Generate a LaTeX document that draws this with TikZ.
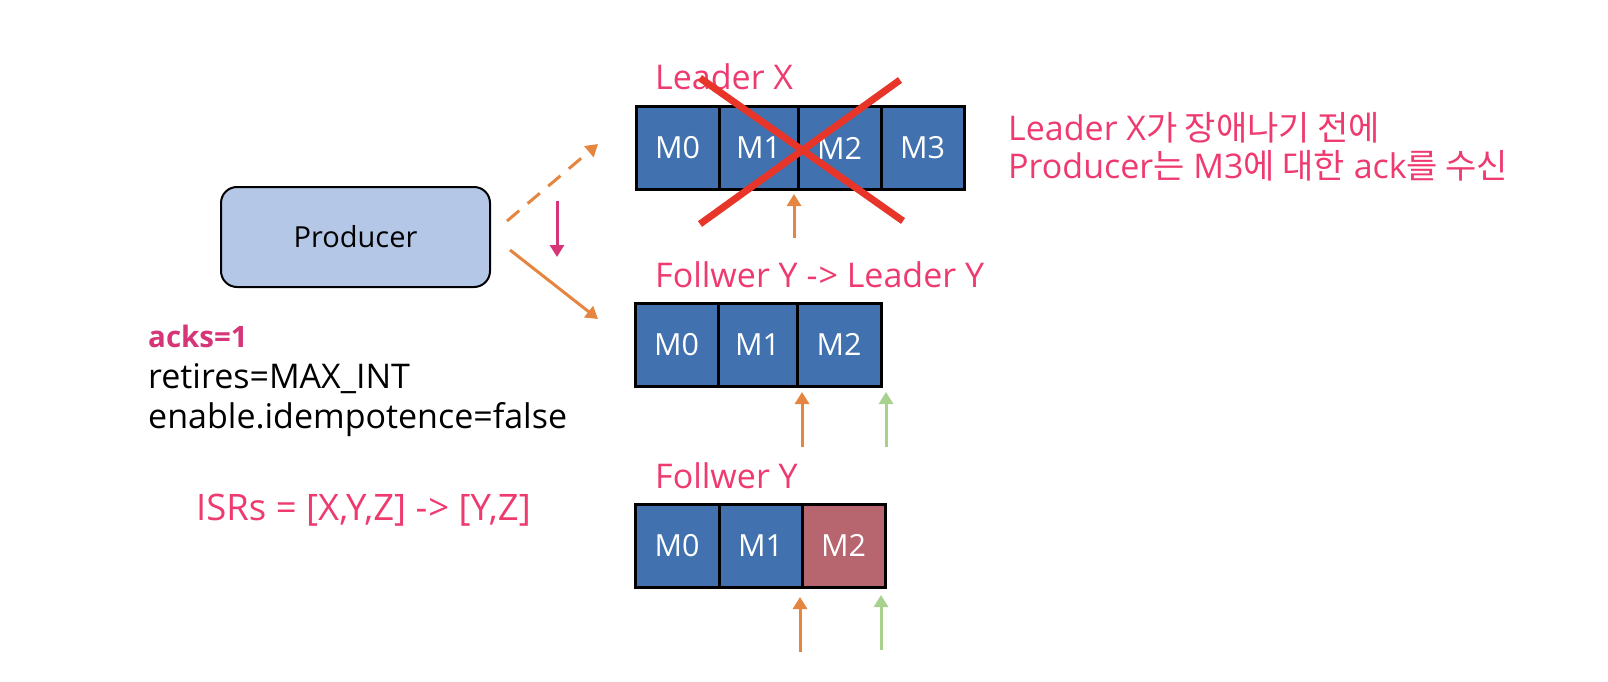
\documentclass[tikz,border=0pt]{standalone}
\usepackage{fontspec}
\setmainfont{Open Sans}
\newfontfamily\cjk{Noto Sans CJK KR}
\usetikzlibrary{arrows.meta}
\definecolor{cellblue}{HTML}{4171AE}
\definecolor{cellred}{HTML}{B7656E}
\definecolor{prodfill}{HTML}{B4C7E7}
\definecolor{arrorange}{HTML}{E5853F}
\definecolor{arrgreen}{HTML}{A9D18E}
\definecolor{arrmag}{HTML}{D63577}
\definecolor{pinktxt}{HTML}{EE3A6F}
\definecolor{crossred}{HTML}{E8352A}
\tikzset{
  cell/.style={draw=black, line width=3pt, fill=cellblue, text=white, inner sep=0pt,
    minimum height=83pt, font=\fontsize{30.5}{34}\selectfont},
  lbl/.style={anchor=base west, inner sep=0pt, text=pinktxt, font=\fontsize{34}{40}\selectfont},
  oarrow/.style={draw=arrorange, line width=3pt, -{Triangle[width=14pt,length=12pt]}},
  garrow/.style={draw=arrgreen, line width=3pt, -{Triangle[width=14pt,length=12pt]}},
  crossline/.style={draw=crossred, line width=7pt},
}
\begin{document}
\begin{tikzpicture}[x=1pt,y=-1pt]
\useasboundingbox (0,0) rectangle (1608,682);
% Producer
\node[draw=black, line width=2pt, fill=prodfill, rounded corners=16pt, minimum width=269pt, minimum height=100pt,
  font=\fontsize{29}{34}\selectfont] (prod) at (355.5,237) {Producer};
% Row 1 (Leader X)
\node[cell, minimum width=83pt] (a0) at (677.5,148) {M0};
\node[cell, minimum width=79pt] (a1) at (758.5,148) {M1};
\node[cell, minimum width=83pt] (a2) at (839.5,148) {M2};
\node[cell, minimum width=83pt] (a3) at (922.5,148) {M3};
\node[lbl] (la) at (655,90) {Leader X};
% Row 2
\node[cell, minimum width=83pt] (b0) at (676.5,344.5) {M0};
\node[cell, minimum width=79pt] (b1) at (757.5,344.5) {M1};
\node[cell, minimum width=84pt] (b2) at (839,344.5) {M2};
\node[lbl] (lb) at (655,287) {Follwer Y -{\kern1pt}> Leader Y};
% Row 3
\node[cell, minimum width=84pt] (c0) at (677,545.5) {M0};
\node[cell, minimum width=83pt] (c1) at (760.5,545.5) {M1};
\node[cell, minimum width=83pt, fill=cellred] (c2) at (843.5,545.5) {M2};
\node[lbl] (lc) at (655,488) {Follwer Y};
% red cross
\coordinate (x1s) at (700,78); \coordinate (x1e) at (903,221);
\coordinate (x2s) at (900,80); \coordinate (x2e) at (700,224);
\draw[crossline] (x1s) -- (x1e);
\draw[crossline] (x2s) -- (x2e);
% producer arrows
\coordinate (d0) at (507,221); \coordinate (d1) at (598,144);
\coordinate (s0) at (510,250); \coordinate (s1) at (598,319);
\coordinate (m0) at (557,201); \coordinate (m1) at (557,257);
\draw[oarrow, dash pattern=on 16pt off 11pt] (d0) -- (d1);
\draw[oarrow] (s0) -- (s1);
\draw[draw=arrmag, line width=3pt, -{Triangle[width=14pt,length=12pt]}] (m0) -- (m1);
% pointer arrows
\coordinate (p1) at (794,238); \coordinate (p1e) at (794,194);
\draw[oarrow] (p1) -- (p1e);
\coordinate (p2) at (802,447); \coordinate (p2e) at (802,392);
\coordinate (g2) at (886,447); \coordinate (g2e) at (886,392);
\draw[oarrow] (p2) -- (p2e);
\draw[garrow] (g2) -- (g2e);
\coordinate (p3) at (800,652); \coordinate (p3e) at (800,597);
\coordinate (g3) at (881,650); \coordinate (g3e) at (881,595);
\draw[oarrow] (p3) -- (p3e);
\draw[garrow] (g3) -- (g3e);
% left text
\node[anchor=base west, inner sep=0pt, text=arrmag, font=\fontsize{29.5}{34}\selectfont\bfseries] (acks) at (148,347) {acks=1};
\node[anchor=base west, inner sep=0pt, font=\fontsize{34}{40}\selectfont] (ret) at (148,388) {retires=MAX\_INT};
\node[anchor=base west, inner sep=0pt, font=\fontsize{34}{40}\selectfont] (ena) at (148,428) {enable.idempotence=false};
\node[anchor=base west, inner sep=0pt, text=pinktxt, font=\fontsize{36.5}{42}\selectfont] (isr) at (196,520) {ISRs = [X,Y,Z] -{\kern1pt}> [Y,Z]};
% right text
\node[lbl] (r1) at (1008,140) {Leader X{\cjk 가 장애나기 전에}};
\node[lbl] (r2) at (1008,178) {Producer{\cjk 는} M3{\cjk 에 대한} ack{\cjk 를 수신}};
\end{tikzpicture}
\end{document}
